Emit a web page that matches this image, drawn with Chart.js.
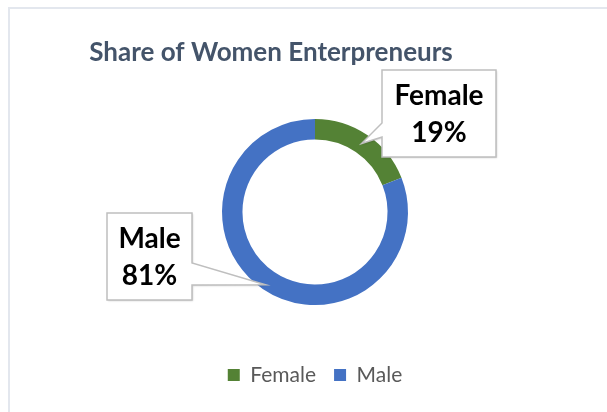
<!DOCTYPE html>
<html>
<head>
<meta charset="utf-8">
<script src="https://cdn.jsdelivr.net/npm/chart.js@4.4.1/dist/chart.umd.min.js"></script>
<style>
  html, body { margin: 0; padding: 0; background: #fff; }
  #wrap { position: absolute; left: 0; top: 0; width: 607px; height: 412px; overflow: hidden; }
  #frame { position: absolute; left: 8px; top: 7px; width: 620px; height: 420px;
           border-left: 2px solid #e3e7ee; border-top: 2px solid #e3e7ee; }
  #chart { position: absolute; left: 0; top: 0; }
</style>
</head>
<body>
<div id="wrap">
  <div id="frame"></div>
  <canvas id="chart" width="607" height="412"></canvas>
</div>
<script>
// Share of women entrepreneurs (doughnut)
const TITLE = 'Share of Women Enterpreneurs';
const LABELS = ['Female', 'Male'];
const SHARES = [19, 81];
const COLORS = ['#548235', '#4472c4'];

const FONT = 'Lato, "Open Sans", sans-serif';

// callout boxes, placed relative to the doughnut centre
const CALLOUTS = [
  { dx: 67, dy: -142, w: 114, h: 87, side: 'left', b1: 53, b2: 67, tip: 0.5 },
  { dx: -208, dy: 1, w: 85, h: 87, side: 'right', b1: 50, b2: 72, tip: 0.75 }
];

const titlePlugin = {
  id: 'sideTitle',
  afterDraw(chart) {
    const ctx = chart.ctx;
    ctx.save();
    ctx.font = 'bold 26px ' + FONT;
    ctx.fillStyle = '#44546a';
    ctx.textAlign = 'center';
    ctx.textBaseline = 'alphabetic';
    ctx.fillText(TITLE, 271, 61);
    ctx.restore();
  }
};

const calloutPlugin = {
  id: 'callouts',
  afterDatasetsDraw(chart) {
    const ctx = chart.ctx;
    const arcs = chart.getDatasetMeta(0).data;
    const total = SHARES.reduce((a, b) => a + b, 0);
    arcs.forEach((arc, i) => {
      const c = CALLOUTS[i];
      const p = arc.getProps(['x', 'y', 'startAngle', 'endAngle', 'innerRadius', 'outerRadius'], true);
      const mid = (p.startAngle + p.endAngle) / 2;
      const r = p.innerRadius + (p.outerRadius - p.innerRadius) * c.tip;
      const tx = p.x + Math.cos(mid) * r;
      const ty = p.y + Math.sin(mid) * r;
      const x = p.x + c.dx, y = p.y + c.dy;

      ctx.save();
      ctx.beginPath();
      if (c.side === 'left') {
        ctx.moveTo(x, y);
        ctx.lineTo(x + c.w, y);
        ctx.lineTo(x + c.w, y + c.h);
        ctx.lineTo(x, y + c.h);
        ctx.lineTo(x, y + c.b2);
        ctx.lineTo(tx, ty);
        ctx.lineTo(x, y + c.b1);
      } else {
        ctx.moveTo(x, y);
        ctx.lineTo(x + c.w, y);
        ctx.lineTo(x + c.w, y + c.b1);
        ctx.lineTo(tx, ty);
        ctx.lineTo(x + c.w, y + c.b2);
        ctx.lineTo(x + c.w, y + c.h);
        ctx.lineTo(x, y + c.h);
      }
      ctx.closePath();
      ctx.shadowColor = 'rgba(0,0,0,0.2)';
      ctx.shadowBlur = 2;
      ctx.shadowOffsetX = 1;
      ctx.shadowOffsetY = 1;
      ctx.fillStyle = '#ffffff';
      ctx.fill();
      ctx.shadowColor = 'transparent';
      ctx.lineWidth = 1.5;
      ctx.strokeStyle = '#bfbfbf';
      ctx.stroke();

      const pct = Math.round(SHARES[i] / total * 100) + '%';
      ctx.font = 'bold 28px ' + FONT;
      ctx.fillStyle = '#000000';
      ctx.textAlign = 'center';
      ctx.textBaseline = 'alphabetic';
      ctx.fillText(LABELS[i], x + c.w / 2, y + 35);
      ctx.fillText(pct, x + c.w / 2, y + 72);
      ctx.restore();
    });
  }
};

new Chart(document.getElementById('chart'), {
  type: 'doughnut',
  data: {
    labels: LABELS,
    datasets: [{
      data: SHARES,
      backgroundColor: COLORS,
      borderWidth: 0
    }]
  },
  options: {
    responsive: false,
    animation: false,
    radius: 93,
    cutout: '78%',
    layout: { padding: { left: 23, right: 0, top: 77.5, bottom: 16.5 } },
    plugins: {
      title: { display: false },
      tooltip: { enabled: false },
      legend: {
        position: 'bottom',
        fullSize: false,
        labels: {
          boxWidth: 12,
          boxHeight: 12,
          padding: 18,
          color: '#595959',
          font: { family: FONT, size: 21 }
        }
      }
    }
  },
  plugins: [calloutPlugin, titlePlugin]
});
</script>
</body>
</html>
